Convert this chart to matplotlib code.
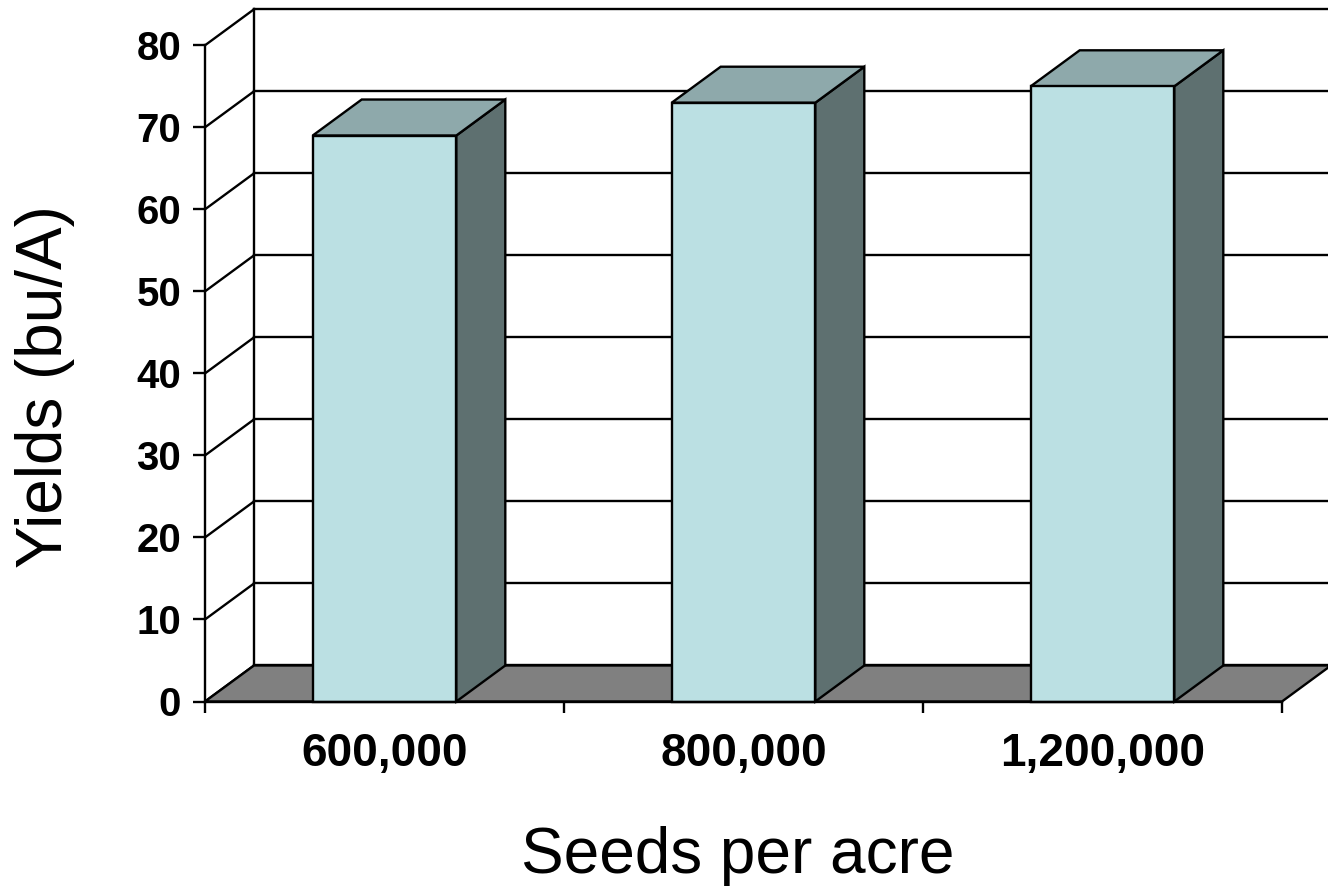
import matplotlib
matplotlib.use("Agg")
import matplotlib.pyplot as plt
from matplotlib.patches import Polygon
import numpy as np

plt.rcParams['font.family'] = ['Liberation Sans', 'DejaVu Sans']

# Yield by seeding rate
categories = ["600,000", "800,000", "1,200,000"]
yields = [69, 73, 75]
y_ticks = [0, 10, 20, 30, 40, 50, 60, 70, 80]

front_col = "#BBE0E3"
top_col = "#8EA9AB"
side_col = "#5E7070"
floor_col = "#808080"
lw = 1.7

# depth of the fake 3D box, in data units
dx = 0.1365
dy = 4.39
bar_w = 0.4

fig = plt.figure(figsize=(13.28, 8.91), dpi=100)
ax = fig.add_axes([205 / 1328, 189.5 / 891, 1077 / 1328, 656.2 / 891])
ax.set_xlim(0, len(categories))
ax.set_ylim(0, 80)
ax.patch.set_visible(False)

# back wall gridlines, side wall diagonals
for v in y_ticks:
    ax.plot([dx, len(categories) + dx], [v + dy, v + dy], color="black", lw=lw,
            clip_on=False, zorder=1)
    ax.plot([0, dx], [v, v + dy], color="black", lw=lw, clip_on=False, zorder=1)
ax.plot([dx, dx], [dy, y_ticks[-1] + dy], color="black", lw=lw, clip_on=False, zorder=1)

# floor
n = len(categories)
floor = Polygon([(0, 0), (n, 0), (n + dx, dy), (dx, dy)], closed=True,
                facecolor=floor_col, edgecolor="black", lw=lw, clip_on=False, zorder=2)
ax.add_patch(floor)

# bars
for i, v in enumerate(yields):
    l = i + 0.5 - bar_w / 2
    r = i + 0.5 + bar_w / 2
    side = Polygon([(r, 0), (r + dx, dy), (r + dx, v + dy), (r, v)], closed=True,
                   facecolor=side_col, edgecolor="black", lw=lw, clip_on=False, zorder=3)
    top = Polygon([(l, v), (r, v), (r + dx, v + dy), (l + dx, v + dy)], closed=True,
                  facecolor=top_col, edgecolor="black", lw=lw, clip_on=False, zorder=3)
    front = Polygon([(l, 0), (r, 0), (r, v), (l, v)], closed=True,
                    facecolor=front_col, edgecolor="black", lw=lw, clip_on=False, zorder=4)
    ax.add_patch(side)
    ax.add_patch(top)
    ax.add_patch(front)

for s in ["top", "right"]:
    ax.spines[s].set_visible(False)
for s in ["left", "bottom"]:
    ax.spines[s].set_linewidth(lw)
    ax.spines[s].set_zorder(5)

ax.set_yticks(y_ticks)
ax.set_yticklabels([str(t) for t in y_ticks], fontsize=29, fontweight="bold")
ax.tick_params(axis="y", direction="out", length=8.6, width=lw, pad=8.6)

ax.set_xticks(np.arange(n + 1))
ax.set_xticklabels([""] * (n + 1))
ax.set_xticks(np.arange(n) + 0.5, minor=True)
ax.set_xticklabels(categories, minor=True, fontsize=33, fontweight="bold")
ax.tick_params(axis="x", which="major", direction="out", length=8, width=lw)
ax.tick_params(axis="x", which="minor", length=0, pad=22)

fig.text(738 / 1328, 1 - 873 / 891, "Seeds per acre", fontsize=46,
         ha="center", va="baseline")
fig.text(45 / 1328, 1 - 387 / 891, "Yields (bu/A)", fontsize=46,
         rotation=90, ha="center", va="center")

fig.savefig("out.png", dpi=100)
